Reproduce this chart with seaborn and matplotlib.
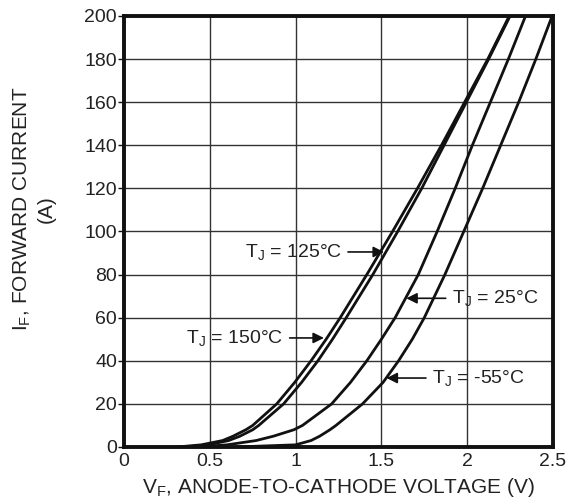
import numpy as np
import pandas as pd
import matplotlib
matplotlib.use("Agg")
import matplotlib.pyplot as plt
import seaborn as sns

# Forward current levels (A) at which the voltage was read
current_A = [0, 1, 3, 5, 8, 10, 20, 30, 40, 50, 60, 80, 100, 120, 140, 160, 180, 200]

# Forward voltage (V) for each junction temperature
v_150C = [0.31, 0.45, 0.575, 0.635, 0.71, 0.75, 0.89, 0.995, 1.09, 1.178, 1.26, 1.415, 1.565, 1.71, 1.85, 1.985, 2.12, 2.245]
v_125C = [0.35, 0.49, 0.61, 0.675, 0.75, 0.785, 0.93, 1.035, 1.13, 1.215, 1.295, 1.45, 1.595, 1.735, 1.865, 1.995, 2.125, 2.25]
v_25C = [0.42, 0.60, 0.77, 0.87, 0.99, 1.04, 1.21, 1.32, 1.415, 1.50, 1.58, 1.715, 1.825, 1.93, 2.03, 2.135, 2.24, 2.34]
v_m55C = [0.65, 1.00, 1.09, 1.14, 1.20, 1.235, 1.39, 1.51, 1.60, 1.68, 1.75, 1.87, 1.98, 2.09, 2.195, 2.30, 2.40, 2.495]

series_names = ["150", "125", "25", "-55"]
x_ticks = [0, 0.5, 1, 1.5, 2, 2.5]
x_tick_labels = ["0", "0.5", "1", "1.5", "2", "2.5"]
y_ticks = [0, 20, 40, 60, 80, 100, 120, 140, 160, 180, 200]

rows = []
for name, vals in zip(series_names, [v_150C, v_125C, v_25C, v_m55C]):
    for v, i in zip(vals, current_A):
        rows.append({"T": name, "V": v, "I": i})
df = pd.DataFrame(rows)

sns.set_theme(style="white")
plt.rcParams["font.family"] = ["Liberation Sans", "DejaVu Sans"]
plt.rcParams["mathtext.fontset"] = "custom"
plt.rcParams["mathtext.rm"] = "Liberation Sans"
plt.rcParams["mathtext.it"] = "Liberation Sans"

fig = plt.figure(figsize=(5.67, 5.04), dpi=100)
ax = fig.add_axes([0.2187, 0.1131, 0.7566, 0.8552])

sns.lineplot(data=df, x="V", y="I", hue="T", units="T", estimator=None, sort=False,
             palette={n: "#111111" for n in series_names}, linewidth=2.0,
             legend=False, ax=ax, zorder=3)

ax.set_xlim(0, 2.5)
ax.set_ylim(0, 200)
ax.set_xticks(x_ticks)
ax.set_xticklabels(x_tick_labels)
ax.set_yticks(y_ticks)
ax.grid(True, color="#333333", linewidth=1.0)
for s in ax.spines.values():
    s.set_visible(True)
    s.set_color("#111111")
    s.set_linewidth(2.8)
ax.tick_params(axis="both", labelsize=14, colors="#111111", labelcolor="#222222")
ax.tick_params(axis="y", length=4, width=1, pad=1, direction="out", left=True)
ax.tick_params(axis="x", length=0, pad=4)

ax.set_xlabel("V$_\\mathregular{F}$, ANODE-TO-CATHODE VOLTAGE (V)", fontsize=15, color="#222222", labelpad=5)
ax.set_ylabel("")
fig.text(0.039, 0.585, "I$_\\mathregular{F}$, FORWARD CURRENT", rotation=90, ha="center", va="center",
         fontsize=15, color="#222222")
fig.text(0.081, 0.585, "(A)", rotation=90, ha="center", va="center", fontsize=15, color="#222222")

arrow = dict(arrowstyle="-|>", color="#111111", lw=1.2, mutation_scale=16, shrinkA=2, shrinkB=0)
tfs = 14
ax.annotate("T$_\\mathregular{J}$ = 125°C", xy=(1.515, 90.5), xytext=(1.27, 90.5),
            ha="right", va="center", fontsize=tfs, color="#222222", arrowprops=arrow, zorder=5)
ax.annotate("T$_\\mathregular{J}$ = 150°C", xy=(1.165, 50.6), xytext=(0.93, 50.6),
            ha="right", va="center", fontsize=tfs, color="#222222", arrowprops=arrow, zorder=5)
ax.annotate("T$_\\mathregular{J}$ = 25°C", xy=(1.645, 69), xytext=(1.91, 69),
            ha="left", va="center", fontsize=tfs, color="#222222", arrowprops=arrow, zorder=5)
ax.annotate("T$_\\mathregular{J}$ = -55°C", xy=(1.53, 32), xytext=(1.795, 32),
            ha="left", va="center", fontsize=tfs, color="#222222", arrowprops=arrow, zorder=5)

fig.savefig("out.png", dpi=100)
